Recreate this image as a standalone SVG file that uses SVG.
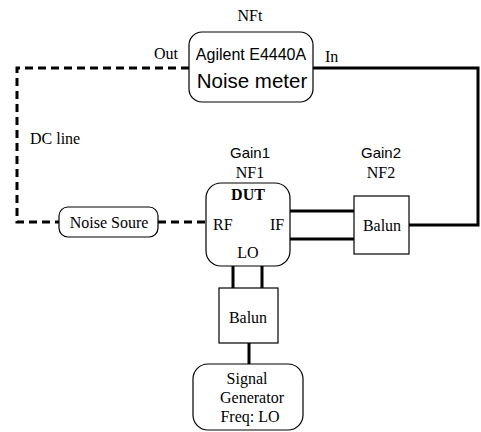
<svg xmlns="http://www.w3.org/2000/svg" width="481" height="432" viewBox="0 0 481 432">
<style>
.box{fill:#fff;stroke:#000;stroke-width:1.2}
.w{stroke:#000;stroke-width:3;fill:none}
.d{stroke:#000;stroke-width:3;fill:none;stroke-dasharray:8 5}
.s{font-family:"Liberation Serif","Times New Roman",serif;font-size:16px;fill:#000}
.a{font-family:"Liberation Sans",Arial,sans-serif;fill:#000}
.m{text-anchor:middle}
</style>
<rect width="481" height="432" fill="#fff"/>
<g id="connectors">
<path class="d" d="M189 68 H17 V222 H59"/>
<path class="d" d="M158 222 H206"/>
<path class="w" d="M313 68 H478 V225 H409"/>
<path class="w" d="M290 211 H354 M290 239 H354"/>
<path class="w" d="M233 266 V288 M262 266 V288"/>
<path class="w" d="M249 343 V364"/>
</g>
<g id="noise-meter">
<rect class="box" x="189" y="32" width="124" height="70" rx="13"/>
<text class="a m" x="251" y="60" font-size="16">Agilent E4440A</text>
<text class="a m" x="252" y="88" font-size="20.5">Noise meter</text>
<text class="s m" x="250" y="21">NFt</text>
<text class="s m" x="166" y="59">Out</text>
<text class="s" x="325" y="62">In</text>
</g>
<text class="s" x="30" y="144">DC line</text>
<g id="noise-source">
<rect class="box" x="59" y="207" width="99" height="30" rx="9"/>
<text class="s m" x="109" y="228" font-size="17">Noise Soure</text>
</g>
<g id="dut">
<rect class="box" x="206" y="183" width="84" height="83" rx="15"/>
<text class="s m" x="248" y="200" font-weight="bold" font-size="17">DUT</text>
<text class="s" x="213" y="230" font-size="17">RF</text>
<text class="s" x="270" y="230" font-size="17">IF</text>
<text class="s m" x="248" y="258" font-size="17">LO</text>
<text class="a m" x="250" y="158" font-size="15">Gain1</text>
<text class="s m" x="250" y="178" font-size="16.5">NF1</text>
</g>
<g id="balun-if">
<rect class="box" x="354" y="196" width="55" height="58"/>
<text class="s m" x="382" y="231" font-size="16.5">Balun</text>
<text class="a m" x="381" y="158" font-size="15">Gain2</text>
<text class="s m" x="381" y="178" font-size="16.5">NF2</text>
</g>
<g id="balun-lo">
<rect class="box" x="219" y="288" width="59" height="55"/>
<text class="s m" x="248" y="323" font-size="16.5">Balun</text>
</g>
<g id="signal-generator">
<rect class="box" x="193" y="364" width="110" height="66" rx="15"/>
<text class="s m" x="247" y="384" font-size="17">Signal</text>
<text class="s m" x="252" y="403" font-size="17">Generator</text>
<text class="s m" x="250" y="422" font-size="17">Freq: LO</text>
</g>
</svg>
